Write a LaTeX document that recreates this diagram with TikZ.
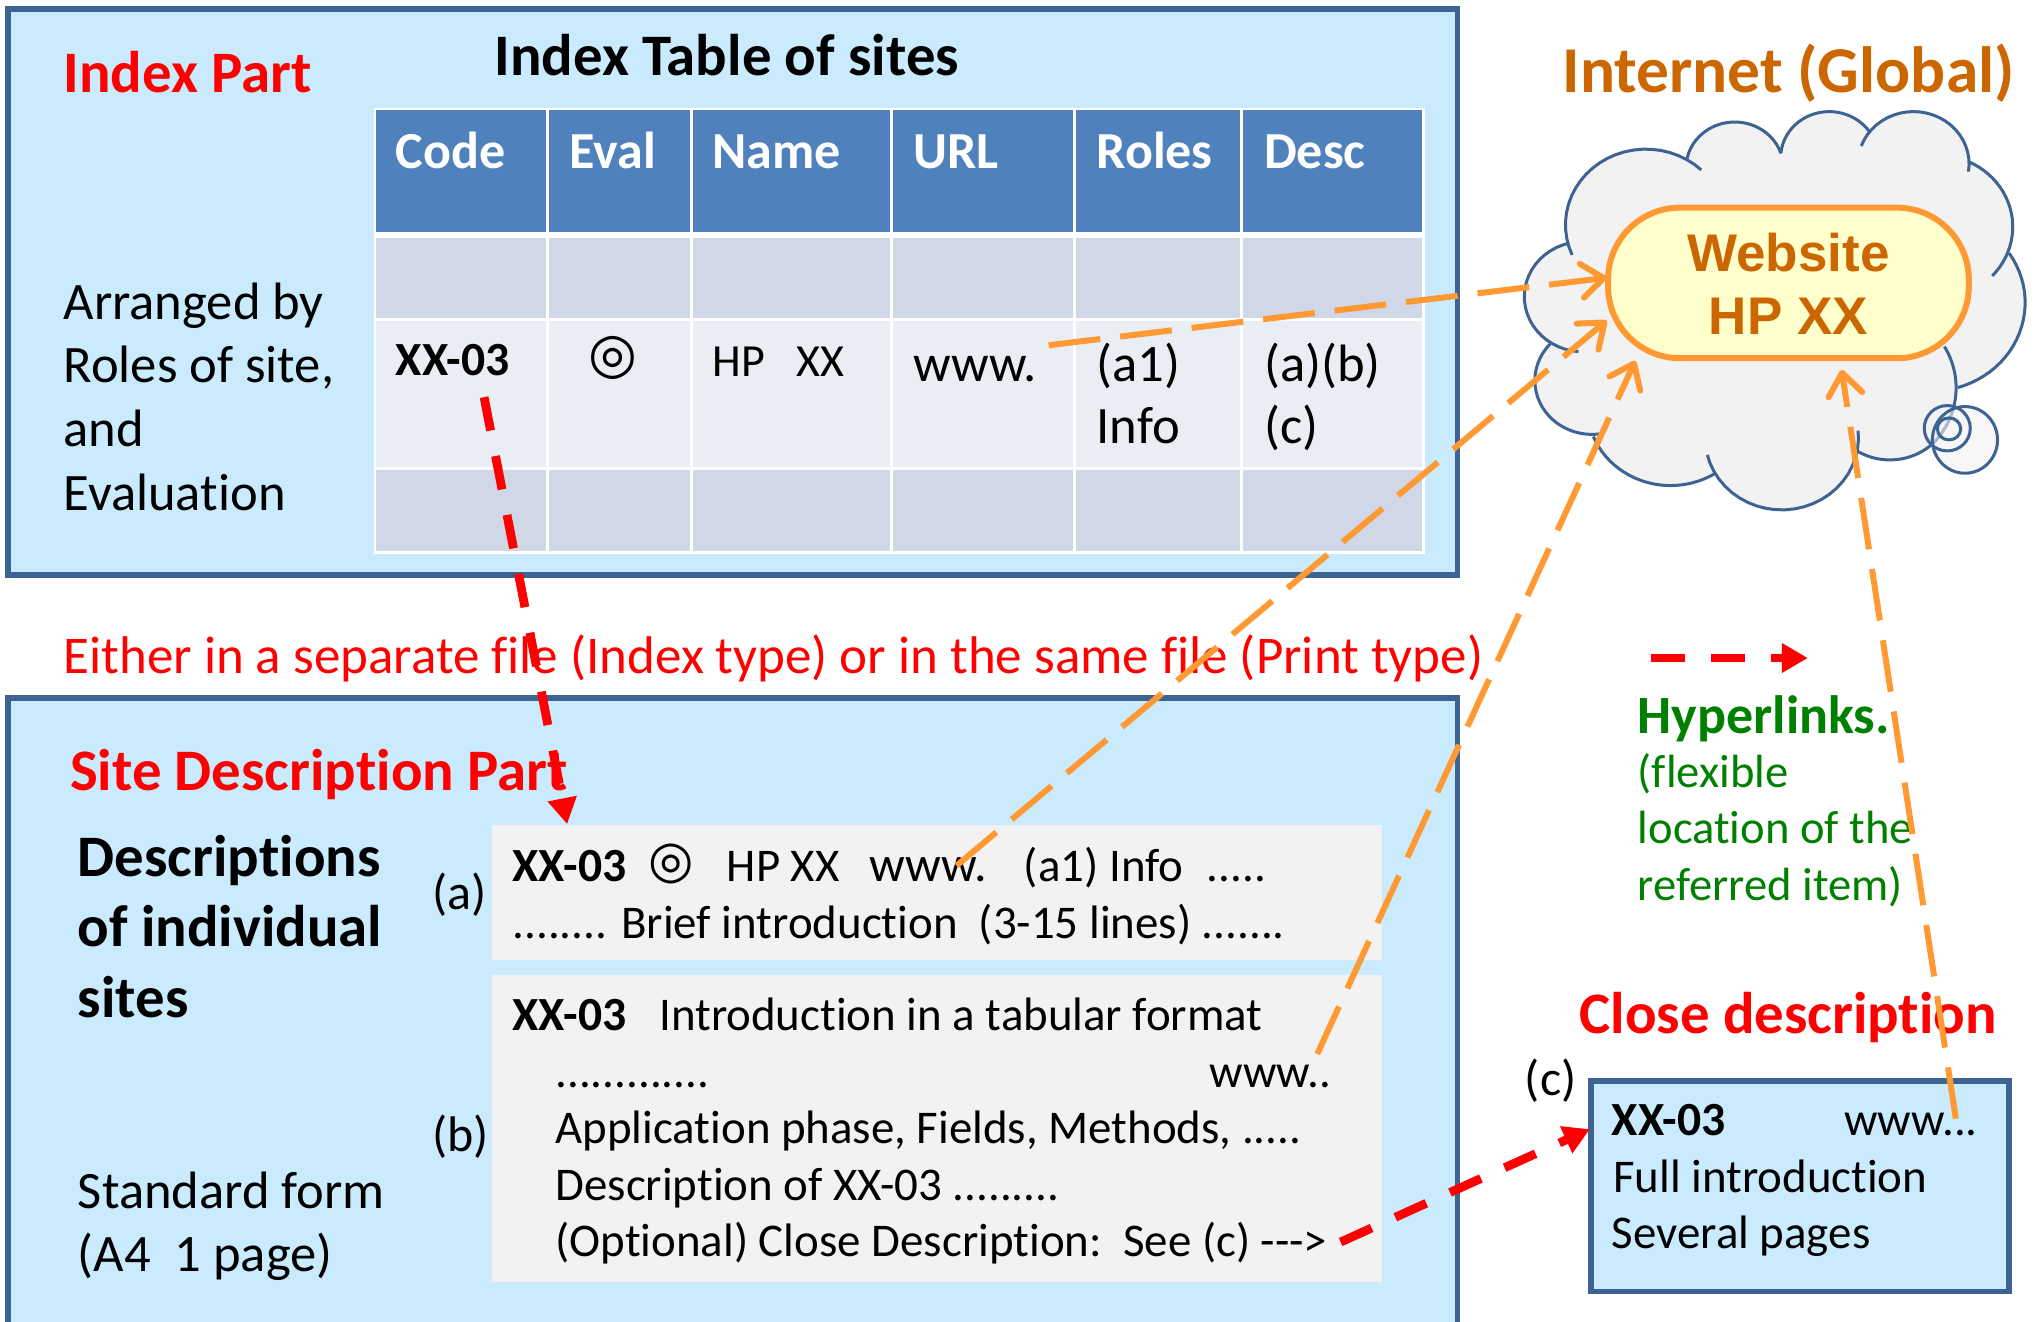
\documentclass[tikz,border=0pt]{standalone}
\usepackage{fontspec}
\setmainfont{Carlito}[Ligatures=NoCommon]
\newfontfamily\arialf{Liberation Sans}
\newfontfamily\symf{DejaVu Sans}
\usetikzlibrary{arrows.meta}
\definecolor{boxblue}{HTML}{CAEBFE}
\definecolor{boxline}{HTML}{3C6391}
\definecolor{headblue}{HTML}{4F81BD}
\definecolor{rowdark}{HTML}{D0D8E8}
\definecolor{rowlight}{HTML}{E9EDF4}
\definecolor{panelgray}{HTML}{F2F2F2}
\definecolor{linkorange}{HTML}{FF9933}
\definecolor{textorange}{HTML}{CC6600}
\definecolor{webfill}{HTML}{FFFFCC}
\definecolor{linkgreen}{HTML}{008000}
\newcommand\fz[1]{\fontsize{#1}{#1}\selectfont}
\tikzset{
  txt/.style={inner sep=0pt,outer sep=0pt,anchor=base west,font=\fz{26.3}},
  big/.style={txt,font=\fz{29.4}\bfseries},
  redbig/.style={big,text=red},
  body/.style={txt,font=\fz{23.45}},
  bodyb/.style={txt,font=\fz{23.8}\bfseries},
  head/.style={txt,font=\fz{26}\bfseries,text=white},
  grn/.style={txt,font=\fz{23.3},text=linkgreen},
  panelbox/.style={draw=boxline,line width=2.8pt,fill=boxblue},
  olink/.style={draw=linkorange,line width=3pt,dash pattern=on 26pt off 10pt,
     -{Straight Barb[length=11pt,width=17pt,line width=3pt,round]}},
  rlink/.style={draw=red,line width=4.4pt,dash pattern=on 17pt off 13pt,
     -{Triangle[length=13pt,width=14pt]}},
  cloudline/.style={draw=boxline,line width=1.5pt},
  cell/.style={draw=white,line width=1.4pt},
}
% circle through three points: sets \lcx \lcy \lr \lstart \lstep
\newcommand\lobecalc[6]{%
 \pgfmathsetmacro\lux{(#3-#1)/100}\pgfmathsetmacro\luy{(#4-#2)/100}%
 \pgfmathsetmacro\lvx{(#5-#1)/100}\pgfmathsetmacro\lvy{(#6-#2)/100}%
 \pgfmathsetmacro\ld{2*(\lux*\lvy-\luy*\lvx)}%
 \pgfmathsetmacro\luu{\lux*\lux+\luy*\luy}\pgfmathsetmacro\lvv{\lvx*\lvx+\lvy*\lvy}%
 \pgfmathsetmacro\lax{(\lvy*\luu-\luy*\lvv)/\ld}%
 \pgfmathsetmacro\lay{(\lux*\lvv-\lvx*\luu)/\ld}%
 \pgfmathsetmacro\lcx{#1+100*\lax}\pgfmathsetmacro\lcy{#2+100*\lay}%
 \pgfmathsetmacro\lr{100*sqrt(\lax*\lax+\lay*\lay)}%
 \pgfmathsetmacro\lstart{atan2(-\lay,-\lax)}%
 \pgfmathsetmacro\lend{atan2(\lvy-\lay,\lvx-\lax)}%
 \pgfmathsetmacro\lsign{\ld>0?1:-1}%
 \pgfmathsetmacro\lsweep{mod(\lsign*(\lend-\lstart)+720,360)}%
 \pgfmathsetmacro\lstep{\lsign*\lsweep/24}%
}
\newcommand\lobefill[6]{\lobecalc{#1}{#2}{#3}{#4}{#5}{#6}%
 \fill[panelgray] (#1,#2) \foreach \li in {1,...,24}{ -- ({\lcx+\lr*cos(\lstart+\li*\lstep)},{\lcy+\lr*sin(\lstart+\li*\lstep)})} -- cycle;}
\newcommand\lobeline[6]{\lobecalc{#1}{#2}{#3}{#4}{#5}{#6}%
 \draw[cloudline,line join=round] (#1,#2) \foreach \li in {1,...,24}{ -- ({\lcx+\lr*cos(\lstart+\li*\lstep)},{\lcy+\lr*sin(\lstart+\li*\lstep)})};}
\newcommand\alllobes[1]{%
 #1{260}{495}{370}{200}{625}{240}%
 #1{585}{205}{735}{97}{850}{190}%
 #1{850}{190}{985}{65}{1100}{125}%
 #1{1077}{168}{1220}{65}{1380}{245}%
 #1{1380}{215}{1505}{410}{1447}{558}%
 #1{1495}{490}{1540}{640}{1350}{893}%
 #1{1312}{770}{1345}{890}{1285}{1055}%
 #1{1285}{1055}{1160}{1110}{1060}{1080}%
 #1{1068}{1022}{850}{1260}{642}{1095}%
 #1{665}{1150}{535}{1187}{320}{1040}%
 #1{350}{1030}{155}{880}{198}{762}%
 #1{278}{785}{125}{620}{250}{460}%
}
\begin{document}
\begin{tikzpicture}[x=0.6489pt,y=-0.6489pt]
\useasboundingbox (0,0) rectangle (1568,1018);
\clip (0,0) rectangle (1568,1018);
\fill[white] (0,0) rectangle (1568,1018);
% panels
\draw[panelbox] (6,7) rectangle (1123,443);
\draw[panelbox] (6,538) rectangle (1123,1040);
% table
\fill[headblue] (289,84) rectangle (1097,179);
\fill[rowdark] (289,183) rectangle (1097,246);
\fill[rowlight] (289,246) rectangle (1097,361);
\fill[rowdark] (289,361) rectangle (1097,426);
\draw[cell] (289,84) rectangle (1097,426);
\draw[cell] (289,246) -- (1097,246) (289,361) -- (1097,361);
\draw[white,line width=2.6pt] (289,181) -- (1097,181);
\foreach \cx in {422,533,687,828,956.5}{\draw[cell] (\cx,84) -- (\cx,426);}
% panel (a),(b)
\fill[panelgray] (379,636) rectangle (1065,740);
\fill[panelgray] (379,751) rectangle (1065,988);
% cloud
\begin{scope}[shift={(1140.4,69.3)},x=0.17697pt,y=-0.16664pt]
 \fill[panelgray] (250,460)--(260,495)--(585,205)--(850,190)--(1100,125)--(1380,215)--(1495,490)--(1350,893)--(1285,1055)--(1060,1080)--(665,1150)--(320,1040)--(198,762)--cycle;
 \alllobes\lobefill
 \alllobes\lobeline
 \draw[cloudline,fill=panelgray,fill opacity=.6] (1370,1050) ellipse [x radius=92,y radius=100];
 \draw[cloudline] (1320,1015) ellipse [x radius=65,y radius=68];
 \draw[cloudline] (1325,1017) ellipse [x radius=33,y radius=33];
\end{scope}
% website
\node[draw=linkorange,line width=3pt,fill=webfill,rounded corners=36pt,minimum width=180.4pt,minimum height=75.3pt,inner sep=0pt] (web) at (1378,218) {};
\node[inner sep=0pt,anchor=base,font=\arialf\fz{26.5}\bfseries,text=textorange] (webA) at (1378,209) {Website};
\node[inner sep=0pt,anchor=base,font=\arialf\fz{26.5}\bfseries,text=textorange] (webB) at (1378,258) {HP XX};
% index part text
\node[redbig] (t1) at (49,71) {Index Part};
\node[txt,font=\fz{29.4}\bfseries] (t2) at (381,58) {Index Table of sites};
\node[head] (h1) at (305,130) {Code};
\node[head] (h2) at (439,130) {Eval};
\node[head] (h3) at (549,130) {Name};
\node[head] (h4) at (704,130) {URL};
\node[head] (h5) at (845,130) {Roles};
\node[head] (h6) at (974,130) {Desc};
\node[txt] (a1) at (49,246) {Arranged by};
\node[txt] (a2) at (49,295) {Roles of site,};
\node[txt] (a3) at (49,344) {and};
\node[txt] (a4) at (49,393) {Evaluation};
\node[bodyb] (r1) at (305,289) {XX-03};
\node[inner sep=0pt,font=\symf\fz{28}] (r2) at (472,276) {◎};
\node[txt,font=\fz{23}] (r3) at (549,290) {HP\ \ \ XX};
\node[txt] (r4) at (704,294) {www.};
\node[txt] (r5) at (845,294) {(a1)};
\node[txt] (r6) at (845,342) {Info};
\node[txt] (r7) at (974,294) {(a)(b)};
\node[txt] (r8) at (974,342) {(c)};
\node[txt,font=\fz{26.5},text=red] (sep) at (49,519) {Either in a separate file (Index type) or in the same file (Print type)};
% description part text
\node[redbig] (d0) at (54,609) {Site Description Part};
\node[big] (d1) at (60,675) {Descriptions};
\node[big] (d2) at (60,729) {of individual};
\node[big] (d3) at (60,784) {sites};
\node[txt] (d4) at (60,931) {Standard form};
\node[txt] (d5) at (60,980) {(A4\ \ 1 page)};
\node[txt,font=\fz{25}] (la) at (333,701) {(a)};
\node[txt,font=\fz{25}] (lb) at (333,887) {(b)};
\node[txt,font=\fz{25}] (lc) at (1175,844) {(c)};
\node[bodyb] (p1) at (395,679) {XX-03};
\node[inner sep=0pt,font=\symf\fz{26}] (p2) at (517,666) {◎};
\node[body] (p3) at (560,679) {HP XX};
\node[txt,font=\fz{25}] (p4) at (670,679) {www.};
\node[body] (p5) at (789,679) {(a1) Info};
\node[body] (p6) at (930,679) {.....};
\node[body] (p7) at (395,723) {........ Brief introduction\ \ (3-15 lines) .......};
\node[bodyb] (q1) at (395,794) {XX-03};
\node[body] (q2) at (508,794) {Introduction in a tabular format};
\node[body] (q3) at (428,838) {.............};
\node[body] (q4) at (932,838) {www..};
\node[body] (q5) at (428,881) {Application phase, Fields, Methods, .....};
\node[body] (q6) at (428,925) {Description of XX-03 .........};
\node[body] (q7) at (428,968) {(Optional) Close Description:\ \ See (c) -{}-{}->};
% right column
\node[txt,font=\fz{32.7}\bfseries,text=textorange] (inet) at (1204,71) {Internet (Global)};
\node[txt,font=\fz{27}\bfseries,text=linkgreen] (g1) at (1262,565) {Hyperlinks.};
\node[grn] (g2) at (1262,607) {(flexible};
\node[grn] (g3) at (1262,650) {location of the};
\node[grn] (g4) at (1262,694) {referred item)};
\node[redbig] (cd) at (1217,796) {Close description};
\draw[panelbox] (1226,833) rectangle (1548,995);
\node[bodyb] (c1) at (1242,875) {XX-03};
\node[body] (c2) at (1421,875) {www...};
\node[body] (c3) at (1243,919) {Full introduction};
\node[body] (c4) at (1242,962) {Several pages};
% connector ends
\coordinate (o1s) at (808,266); \coordinate (o1e) at (1238,214);
\coordinate (o2s) at (737,667); \coordinate (o2e) at (1238,247);
\coordinate (o3s) at (1015,812); \coordinate (o3e) at (1260,278);
\coordinate (o4s) at (1507,862); \coordinate (o4e) at (1419,285);
\coordinate (r1s) at (373,306); \coordinate (r1e) at (437,635);
\coordinate (r2s) at (1033,957); \coordinate (r2e) at (1225,870);
\coordinate (legs) at (1272,507); \coordinate (lege) at (1393,507);
\draw[olink] (o1s) -- (o1e);
\draw[olink] (o2s) -- (o2e);
\draw[olink] (o3s) -- (o3e);
\draw[olink] (o4s) -- (o4e);
\draw[rlink] (r1s) -- (r1e);
\draw[rlink] (r2s) -- (r2e);
\draw[rlink] (legs) -- (lege);
\end{tikzpicture}
\end{document}
